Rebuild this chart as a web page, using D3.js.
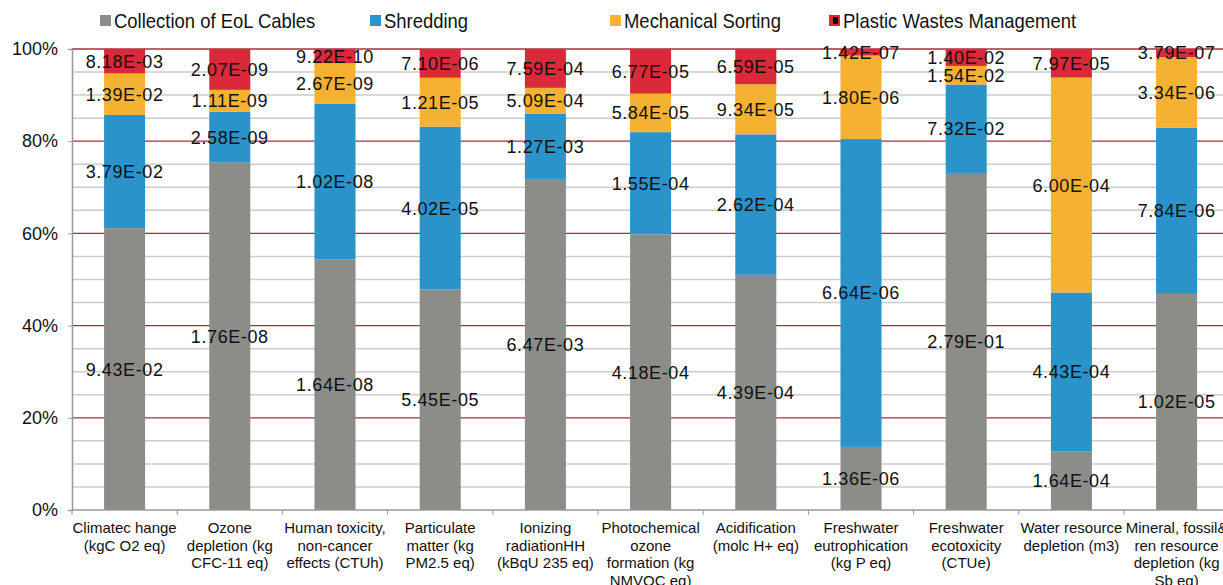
<!DOCTYPE html>
<html>
<head>
<meta charset="utf-8">
<script src="https://cdn.jsdelivr.net/npm/d3@7"></script>
<style>
  body { margin: 0; background: #fff; }
  svg { font-family: "Liberation Sans", Arial, sans-serif; }
</style>
</head>
<body>
<div id="chart"></div>
<script>
// categories (x labels split into lines as in the figure)
const categories = [
  ["Climatec hange", "(kgC O2 eq)"],
  ["Ozone", "depletion (kg", "CFC-11 eq)"],
  ["Human toxicity,", "non-cancer", "effects (CTUh)"],
  ["Particulate", "matter (kg", "PM2.5 eq)"],
  ["Ionizing", "radiationHH", "(kBqU 235 eq)"],
  ["Photochemical", "ozone", "formation (kg", "NMVOC eq)"],
  ["Acidification", "(molc H+ eq)"],
  ["Freshwater", "eutrophication", "(kg P eq)"],
  ["Freshwater", "ecotoxicity", "(CTUe)"],
  ["Water resource", "depletion (m3)"],
  ["Mineral, fossil&", "ren resource", "depletion (kg", "Sb eq)"]
]

const seriesNames = ["Collection of EoL Cables", "Shredding", "Mechanical Sorting", "Plastic Wastes Management"]

const collection = [9.43e-2, 1.76e-8, 1.64e-8, 5.45e-5, 6.47e-3, 4.18e-4, 4.39e-4, 1.36e-6, 2.79e-1, 1.64e-4, 1.02e-5]
const shredding  = [3.79e-2, 2.58e-9, 1.02e-8, 4.02e-5, 1.27e-3, 1.55e-4, 2.62e-4, 6.64e-6, 7.32e-2, 4.43e-4, 7.84e-6]
const sorting    = [1.39e-2, 1.11e-9, 2.67e-9, 1.21e-5, 5.09e-4, 5.84e-5, 9.34e-5, 1.80e-6, 1.54e-2, 6.00e-4, 3.34e-6]
const plastic    = [8.18e-3, 2.07e-9, 9.22e-10, 7.10e-6, 7.59e-4, 6.77e-5, 6.59e-5, 1.42e-7, 1.40e-2, 7.97e-5, 3.79e-7]

const yTicks = [0, 0.2, 0.4, 0.6, 0.8, 1.0]

const colors = ["#8c8c89", "#2a93c9", "#f4b132", "#d9293a"]

const width = 1223, height = 585
const margin = {top: 49, left: 72, bottom: 75}
const plotBottom = height - margin.bottom   // 510
const plotRight = margin.left + 11 * 105.2

const svg = d3.select("#chart").append("svg")
  .attr("width", width)
  .attr("height", height)

const x = d3.scaleBand()
  .domain(d3.range(categories.length))
  .range([margin.left, plotRight])
  .paddingInner(0.61)
  .paddingOuter(0.305)

const y = d3.scaleLinear()
  .domain([0, 1])
  .range([plotBottom, margin.top])

// gridlines every 5%, red every 20%
const grid = svg.append("g")
d3.range(1, 21).forEach(i => {
  const v = i * 0.05
  const major = i % 4 == 0
  grid.append("line")
    .attr("x1", margin.left).attr("x2", width)
    .attr("y1", y(v)).attr("y2", y(v))
    .attr("stroke", major ? "#b5283f" : "#cccccc")
    .attr("stroke-width", major ? 1.3 : 1.5)
})

// build rows and stack them normalized
const rows = categories.map((c, i) => ({
  i: i,
  s0: collection[i], s1: shredding[i], s2: sorting[i], s3: plastic[i]
}))
const stack = d3.stack().keys(["s0", "s1", "s2", "s3"]).offset(d3.stackOffsetExpand)
const stacked = stack(rows)

function fmtE(v) {
  const [m, e] = v.toExponential(2).split("e")
  const n = Math.abs(+e)
  return m + "E" + (+e < 0 ? "-" : "+") + (n < 10 ? "0" + n : n)
}

const layers = svg.append("g").selectAll("g")
  .data(stacked)
  .enter().append("g")
  .attr("fill", (d, k) => colors[k])

layers.selectAll("rect")
  .data(d => d)
  .enter().append("rect")
  .attr("x", d => x(d.data.i))
  .attr("width", x.bandwidth())
  .attr("y", d => y(d[1]))
  .attr("height", d => y(d[0]) - y(d[1]))

// value labels centred in each segment
const labels = svg.append("g")
stacked.forEach(layer => {
  layer.forEach(d => {
    labels.append("text")
      .attr("x", x(d.data.i) + x.bandwidth() / 2)
      .attr("y", y((d[0] + d[1]) / 2))
      .attr("dy", "0.36em")
      .attr("text-anchor", "middle")
      .attr("font-size", 18)
      .attr("letter-spacing", 0.6)
      .attr("fill", "#111")
      .text(fmtE(d.data[layer.key]))
  })
})

// y axis
const yAxis = svg.append("g")
  .attr("transform", "translate(" + margin.left + ",0)")
  .call(d3.axisLeft(y).tickValues(yTicks).tickFormat(d3.format(".0%")).tickSize(4).tickPadding(10))
yAxis.select(".domain").attr("stroke", "#999").attr("stroke-width", 1.5)
yAxis.selectAll(".tick line").attr("stroke", "#999")
yAxis.selectAll("text").attr("font-size", 18).attr("fill", "#111")
  .style("font-family", "Liberation Sans, Arial, sans-serif")

// x axis with ticks at category boundaries
const xAxisG = svg.append("g")
xAxisG.append("line")
  .attr("x1", margin.left).attr("x2", width)
  .attr("y1", plotBottom).attr("y2", plotBottom)
  .attr("stroke", "#999").attr("stroke-width", 1.5)
d3.range(categories.length + 1).forEach(i => {
  const xx = margin.left + i * x.step()
  xAxisG.append("line")
    .attr("x1", xx).attr("x2", xx)
    .attr("y1", plotBottom).attr("y2", plotBottom + 5)
    .attr("stroke", "#999")
})

categories.forEach((lines, i) => {
  const t = xAxisG.append("text")
    .attr("text-anchor", "middle")
    .attr("font-size", 15)
    .attr("fill", "#111")
  lines.forEach((ln, j) => {
    t.append("tspan")
      .attr("x", x(i) + x.bandwidth() / 2)
      .attr("y", 533 + j * 17.5)
      .text(ln)
  })
})

// legend (text a bit condensed like the original)
const legendX = [100, 370, 610, 829]
const legend = svg.append("g")
seriesNames.forEach((name, k) => {
  const g = legend.append("g").attr("transform", "translate(" + legendX[k] + ",15)")
  g.append("rect").attr("width", 11).attr("height", 11).attr("fill", colors[k])
  if (k == 3) {
    g.append("rect").attr("x", 4).attr("y", 2).attr("width", 5).attr("height", 7).attr("fill", "#000")
  }
  g.append("text")
    .attr("transform", "translate(14,6) scale(0.9,1)")
    .attr("dy", "0.36em")
    .attr("font-size", 20.5)
    .attr("fill", "#111")
    .text(name)
})
</script>
</body>
</html>
